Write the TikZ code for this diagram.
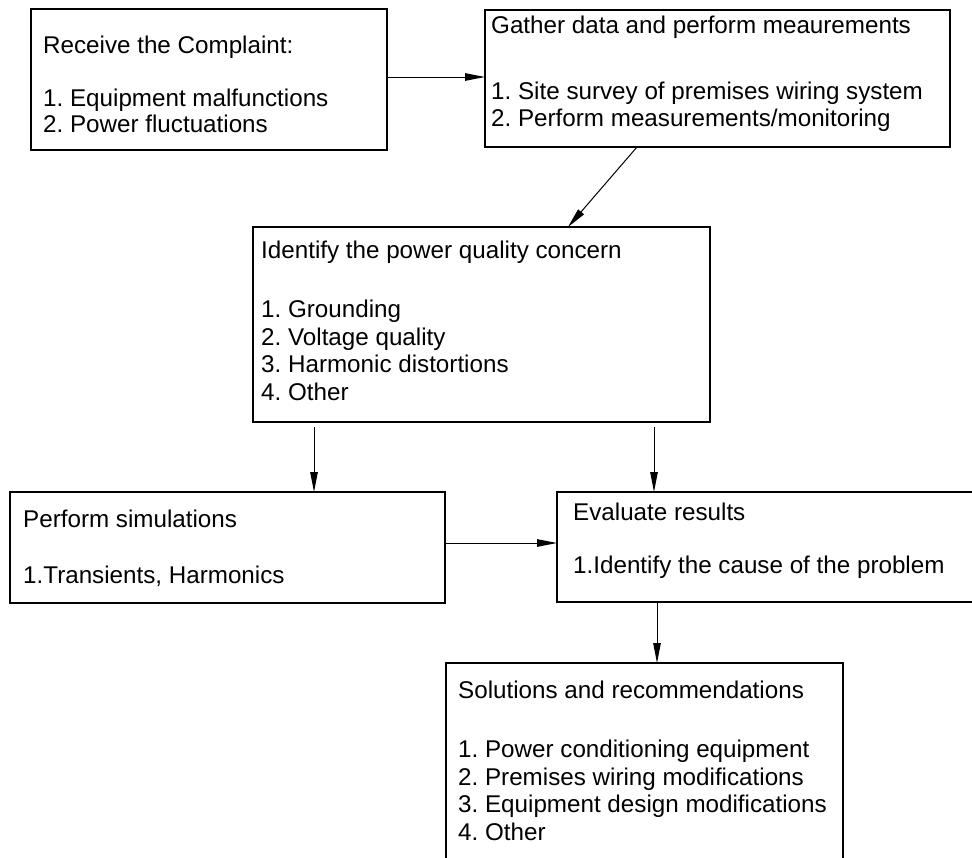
\documentclass[tikz,border=0pt]{standalone}
\usepackage{fontspec}
\setmainfont{Liberation Sans}
\usetikzlibrary{arrows.meta,calc}
\frenchspacing
\begin{document}
\begin{tikzpicture}[x=1pt,y=-1pt,
  box/.style={draw,line width=2.8pt,rectangle,inner sep=0pt,outer sep=0pt,anchor=north west},
  txt/.style={anchor=north west,inner sep=0pt,align=left,font=\fontsize{24.2}{27.8}\selectfont\frenchspacing},
  arr/.style={line width=1pt,-{Triangle[length=20pt,width=7.5pt]}}]
\useasboundingbox (0,0) rectangle (972,857);
\clip (0,0) rectangle (972,857);
\node[box,minimum width=356pt,minimum height=141pt] (b1) at (31,9) {};
\node[box,minimum width=465pt,minimum height=137pt] (b2) at (485,10) {};
\node[box,minimum width=457pt,minimum height=195pt] (b3) at (253,227) {};
\node[box,minimum width=435pt,minimum height=111pt] (b4) at (10,492) {};
\node[box,minimum width=433pt,minimum height=110pt] (b5) at (557,492) {};
\node[box,minimum width=397pt,minimum height=230pt] (b6) at (446,663) {};
\node[txt] (t1) at (43,35.6) {Receive the Complaint:\\[25.2pt] 1. Equipment malfunctions\\[-1.8pt] 2. Power fluctuations};
\node[txt] (t2) at (491,15.6) {Gather data and perform meaurements\\[38.2pt] 1. Site survey of premises wiring system\\[-0.8pt] 2. Perform measurements/monitoring};
\node[txt] (t3) at (261,240.6) {Identify the power quality concern\\[31.2pt] 1. Grounding\\ 2. Voltage quality\\ 3. Harmonic distortions\\ 4. Other};
\node[txt] (t4) at (23,509.6) {Perform simulations\\[28.2pt] 1.Transients, Harmonics};
\node[txt] (t5) at (573,502.6) {Evaluate results\\[25.2pt] 1.Identify the cause of the problem};
\node[txt] (t6) at (458,680.6) {Solutions and recommendations\\[31.2pt] 1. Power conditioning equipment\\ 2. Premises wiring modifications\\ 3. Equipment design modifications\\ 4. Other};
\draw[arr] ($(b1.north east)+(0,68)$) -- ($(b2.north west)+(0,67)$);
\draw[arr] ($(b2.south west)+(152,0)$) -- ($(b3.north west)+(315,0)$);
\draw[arr] ($(b3.south west)+(61,5)$) -- ($(b4.north west)+(304,0)$);
\draw[arr] ($(b3.south west)+(401,5)$) -- ($(b5.north west)+(97,0)$);
\draw[arr] ($(b4.north east)+(0,51)$) -- ($(b5.north west)+(0,51)$);
\draw[arr] ($(b5.south west)+(100,0)$) -- ($(b6.north west)+(211,0)$);
\end{tikzpicture}
\end{document}
